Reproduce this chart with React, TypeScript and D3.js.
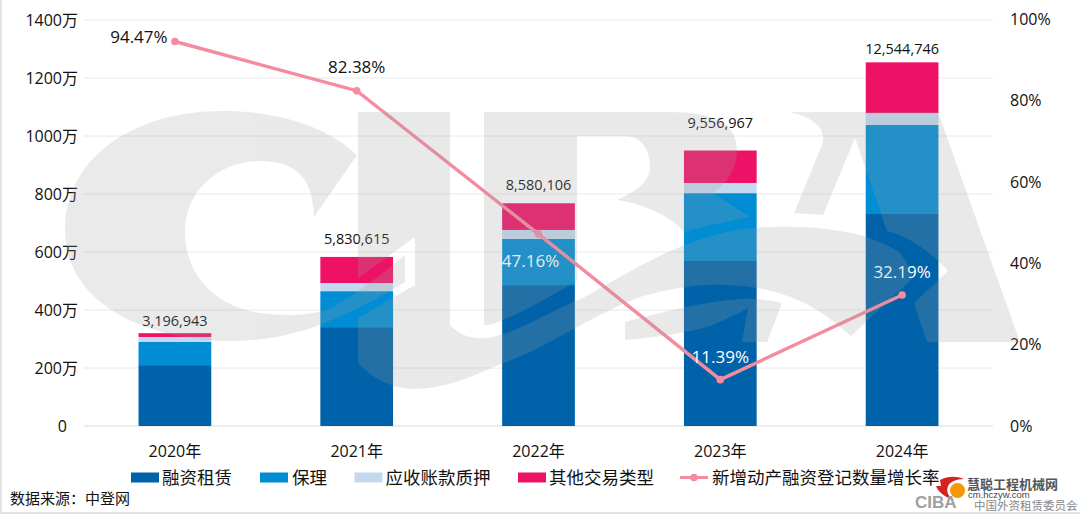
import React from "react";
import * as d3 from "d3";

const years = ["2020年", "2021年", "2022年", "2023年", "2024年"];
const leasing = [210, 341, 486, 569, 731];
const factoring = [80, 124, 159, 234, 307];
const receivable = [17, 28, 31, 35, 41];
const others = [13, 90, 92, 112, 175];
const totalLabels = ["3,196,943", "5,830,615", "8,580,106", "9,556,967", "12,544,746"];
const growth = [94.47, 82.38, 47.16, 11.39, 32.19];
const leftTicks = [0, 200, 400, 600, 800, 1000, 1200, 1400];
const rightTicks = [0, 20, 40, 60, 80, 100];
const seriesNames = ["融资租赁", "保理", "应收账款质押", "其他交易类型"];
const seriesColors = ["#0063a9", "#008dd3", "#c3d9ef", "#ee1266"];
const lineName = "新增动产融资登记数量增长率";
const lineColor = "#f68ba0";
const source = "数据来源：中登网";

const FONT = "'Open Sans','Noto Sans CJK SC',sans-serif";
const CJK = "'Noto Sans CJK SC',sans-serif";

// Large translucent CIBA watermark that lies over the whole plot
const watermark = [
  // C
  "M357,155 C325,125 275,111 223,111 C130,111 65,160 65,230 C65,300 140,341 233,341 C300,341 355,312 405,282 L405,255 C375,280 350,298 327,310 C305,316 285,316 260,313 C215,306 185,275 185,232 C185,190 220,161 260,161 C298,161 313,180 314,217 Z",
  // I with the big swoosh
  "M358,112 L450,112 L450,325 C458,334 470,339 485,338 C515,335 545,313 583,298 C615,280 645,262 673,250 C705,235 740,227 773,227 C805,226 840,229 867,237 C880,242 892,247 900,253 C906,260 910,268 913,278 L851,336 C830,318 815,306 790,297 C765,287 735,284 707,285 C685,286 660,291 640,297 C615,306 595,318 577,327 C545,345 520,358 493,367 C465,380 440,389 413,389 C390,388 372,378 358,363 L358,318 L415,285 L415,237 L358,278 Z",
  // B
  "M484,112 L670,112 C715,112 737,125 737,150 C737,170 725,185 713,193 L750,217 C725,222 705,226 684,232 C675,220 650,205 617,200 C640,190 650,180 650,167 C650,148 640,136 625,136 L577,136 L577,281 C550,296 525,312 502,320 C495,324 490,325 484,325 Z",
  // hook below the swoosh
  "M625,322 C655,314 700,302 740,299 C755,298 770,300 782,303 L767,342 L742,342 L748,308 C730,318 718,323 707,327 C680,334 650,338 625,340 Z",
  // A
  "M790,112 L938,112 L1020,342 L927,342 L914,303 L948,271 C935,257 915,238 887,231 L855,138 L823,215 L794,213 L820,150 C830,130 815,118 790,112 Z",
];

export default function App() {
  const W = 1080, H = 514;
  const x = d3.scaleBand<string>().domain(years).range([84, 993]).paddingInner(0.6).paddingOuter(0.3);
  const yL = d3.scaleLinear().domain([0, 1400]).range([426, 20]);
  const yR = d3.scaleLinear().domain([0, 100]).range([426, 19]);
  const rows = years.map((year, i) => ({ year, a: leasing[i], b: factoring[i], c: receivable[i], d: others[i] }));
  const stack = d3.stack<any>().keys(["a", "b", "c", "d"])(rows);
  const cx = (i: number) => (x(years[i]) as number) + x.bandwidth() / 2;
  const line = d3.line<number>().x((_, i) => cx(i)).y((d) => yR(d));

  const totalGap = [12, 18, 19, 28, 14];
  const pctOffset = [[-36, -5], [0, -24], [-8, 27], [0, -23], [0, -23]];
  const pctColor = ["#111", "#111", "#fff", "#fff", "#fff"];

  const legendSwatch = [131, 260, 354.5, 518];
  const legendText = [162, 292, 385.5, 549];

  return (
    <svg width={W} height={H} style={{ position: "absolute", left: 0, top: 0, background: "#fff" }} fontFamily={FONT}>
      <path d={`M1,0 V${H - 1} H${W}`} fill="none" stroke="#e2e2e2" strokeWidth={2} />
      {leftTicks.map((t) => (
        <g key={t}>
          <line x1={84} x2={993} y1={yL(t)} y2={yL(t)} stroke={t === 0 ? "#d9d9d9" : "#e8e8e8"} strokeWidth={1} />
          <text x={t === 0 ? 67 : 78} y={yL(t)} dy="0.36em" textAnchor="end" fontSize={16} fill="#111">
            {t === 0 ? "0" : `${t}万`}
          </text>
        </g>
      ))}
      {rightTicks.map((t) => (
        <text key={t} x={1010} y={yR(t)} dy="0.36em" fontSize={16} fill="#111">{`${t}%`}</text>
      ))}
      {stack.map((s, si) =>
        s.map((d, i) => (
          <rect key={`${si}-${i}`} x={x(years[i])} width={x.bandwidth()} y={yL(d[1])} height={yL(d[0]) - yL(d[1])} fill={seriesColors[si]} />
        ))
      )}
      {years.map((y, i) => (
        <text key={y} x={cx(i)} y={451} dy="0.36em" textAnchor="middle" fontSize={16} fill="#111">{y}</text>
      ))}
      {totalLabels.map((t, i) => (
        <text key={t} x={cx(i)} y={yL(stack[3][i][1]) - totalGap[i]} dy="0.36em" textAnchor="middle" fontSize={14.5} fill="#111">{t}</text>
      ))}
      <path d={line(growth) as string} fill="none" stroke={lineColor} strokeWidth={3.4} />
      {growth.map((g, i) => (
        <circle key={i} cx={cx(i)} cy={yR(g)} r={3.8} fill={lineColor} />
      ))}
      {growth.map((g, i) => (
        <text key={i} x={cx(i) + pctOffset[i][0]} y={yR(g) + pctOffset[i][1]} dy="0.36em" textAnchor="middle" fontSize={17} fill={pctColor[i]}>{`${g.toFixed(2)}%`}</text>
      ))}
      {seriesNames.map((n, i) => (
        <g key={n}>
          <rect x={legendSwatch[i]} y={472.5} width={28} height={10} fill={seriesColors[i]} />
          <text x={legendText[i]} y={477.5} dy="0.36em" fontSize={17.5} fontFamily={CJK} fill="#111">{n}</text>
        </g>
      ))}
      <line x1={680} x2={708} y1={477.5} y2={477.5} stroke={lineColor} strokeWidth={3} />
      <circle cx={694} cy={477.5} r={3.8} fill={lineColor} />
      <text x={712} y={477.5} dy="0.36em" fontSize={17.5} fontFamily={CJK} fill="#111">{lineName}</text>
      <text x={10} y={498.5} dy="0.36em" fontSize={15} fontFamily={CJK} fill="#111">{source}</text>

      <g fill="#a0a0a0" opacity={0.22}>
        {watermark.map((d, i) => <path key={i} d={d} />)}
      </g>

      {/* bottom-right credit marks */}
      <g>
        <path d="M940,480 C948,476 956,476 964,479 C956,479 950,482 948,486 C946,492 948,496 954,500 C946,498 938,492 936,486 L941,486 Z" fill="#d6231f" />
        <circle cx={957.5} cy={490.5} r={7.5} fill="#f39800" />
        <text x={967} y={484.5} dy="0.36em" fontSize={13} fontWeight={700} fontFamily={CJK} fill="#555">慧聪工程机械网</text>
        <text x={968} y={495} dy="0.36em" fontSize={9.5} fontFamily="'Liberation Sans',sans-serif" fill="#444">cm.hczyw.com</text>
        <text x={915} y={502} dy="0.36em" fontSize={17} fontWeight={700} fontFamily="'Liberation Sans',sans-serif" fill="#a0a0a0">CIBA</text>
        <text x={974} y={506} dy="0.36em" fontSize={11.5} fontFamily={CJK} fill="#888">中国外资租赁委员会</text>
      </g>
    </svg>
  );
}
